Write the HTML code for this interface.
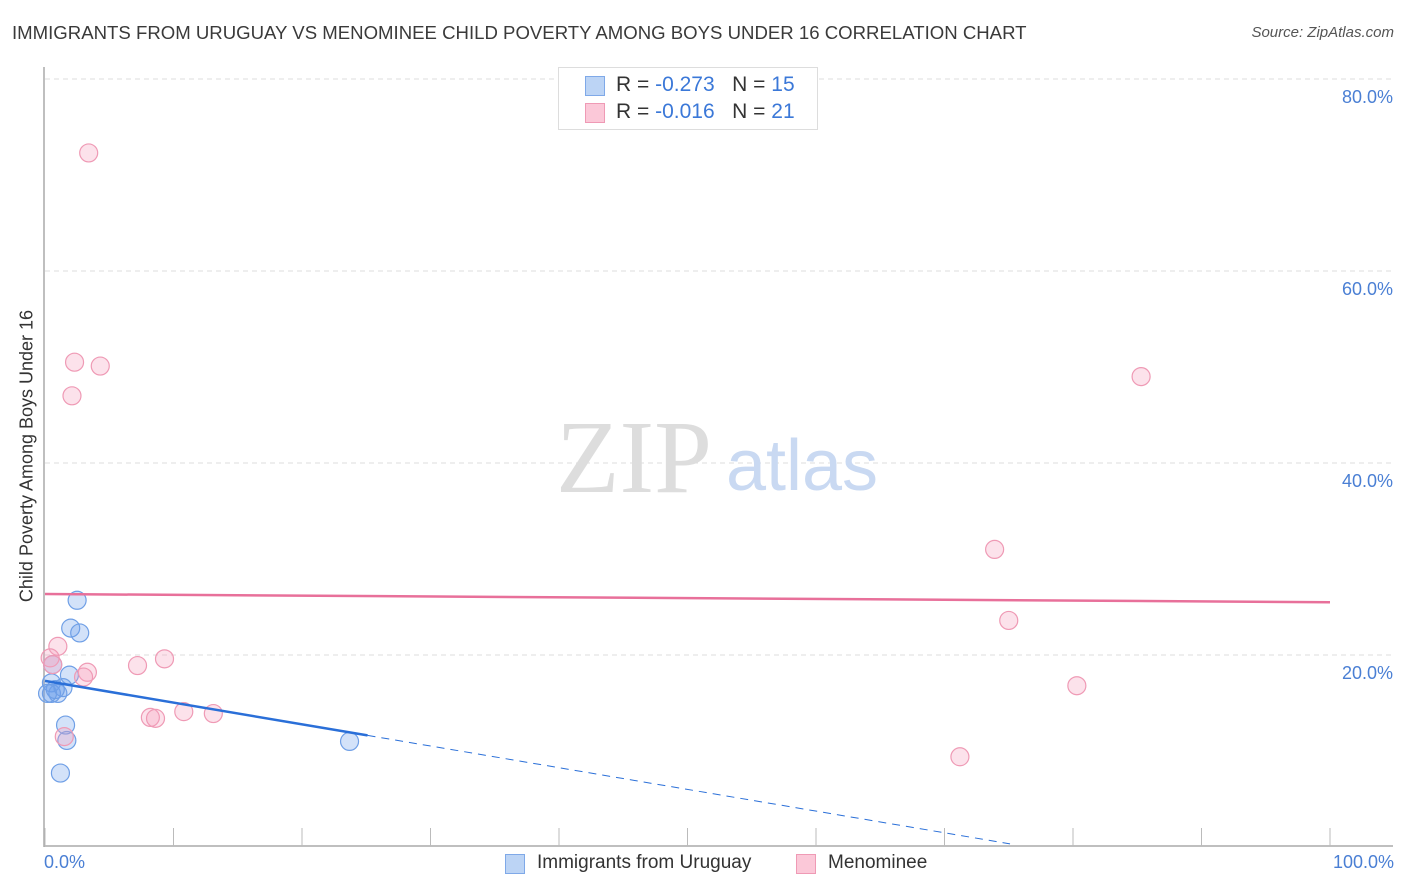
<!DOCTYPE html>
<html><head><meta charset="utf-8"><style>
body{margin:0;background:#fff;font-family:"Liberation Sans",sans-serif;}
#wrap{position:relative;width:1406px;height:892px;overflow:hidden;}
.t{position:absolute;white-space:nowrap;}
</style></head><body>
<div id="wrap">
<div class="t" style="left:12px;top:22px;font-size:18.6px;color:#3a3a3a;">IMMIGRANTS FROM URUGUAY VS MENOMINEE CHILD POVERTY AMONG BOYS UNDER 16 CORRELATION CHART</div>
<div class="t" style="right:12px;top:24px;font-size:15px;color:#555;font-style:italic;">Source: ZipAtlas.com</div>
<svg id="plot" width="1406" height="892" style="position:absolute;left:0;top:0"></svg>
</div>
<script>
const yTicks=[20,40,60,80];
const yTickLabels=["20.0%","40.0%","60.0%","80.0%"];
const xTickVals=[0,10,20,30,40,50,60,70,80,90,100];
const blueX=[2.5,2.0,2.7,0.6,1.9,0.5,0.5,1.0,1.4,0.8,0.2,1.6,1.7,1.2,23.7];
const blueY=[25.7,22.8,22.3,19.0,17.9,17.1,16.0,16.0,16.6,16.4,16.0,12.7,11.1,7.7,11.0];
const pinkX=[3.4,2.3,4.3,2.1,85.3,73.9,75.0,80.3,71.2,1.0,0.4,0.6,3.3,3.0,7.2,9.3,8.2,8.6,10.8,13.1,1.5];
const pinkY=[72.3,50.5,50.1,47.0,49.0,31.0,23.6,16.8,9.4,20.9,19.7,19.0,18.2,17.7,18.9,19.6,13.5,13.4,14.1,13.9,11.5];
const blueTrend=[17.3,-0.226]; // intercept, slope
const blueSolidEnd=25.1;
const blueDashEnd=75.1;
const pinkTrend=[26.35,-0.0085];
const NS="http://www.w3.org/2000/svg";
const svg=document.getElementById('plot');
const X=v=>45+v*12.85, Y=v=>847-v*9.6;
function mk(t,a){const e=document.createElementNS(NS,t);for(const k in a)e.setAttribute(k,a[k]);svg.appendChild(e);return e;}
yTicks.forEach((v,i)=>{
 const g=mk('line',{x1:45,x2:1393,y1:Y(v),y2:Y(v),stroke:'#ddd','stroke-dasharray':'5,4'});
 
 
 const t=mk('text',{x:1393,y:Y(v)+24,'text-anchor':'end','font-size':18,fill:'#4a7fd4','font-family':'Liberation Sans'});
 t.textContent=yTickLabels[i];
 
 
});
const ax=mk('line',{x1:44,x2:44,y1:67,y2:847,stroke:'#aaa','stroke-width':1.5});


const bx=mk('line',{x1:44,x2:1393,y1:846,y2:846,stroke:'#aaa','stroke-width':1.5});


xTickVals.forEach(v=>{
 const l=mk('line',{x1:X(v),x2:X(v),y1:828,y2:846,stroke:'#bbb'});
 
 
});
const wm1=mk('text',{x:634,y:492,'text-anchor':'middle','font-size':104,fill:'#ddd','font-family':'Liberation Serif'});
wm1.textContent='ZIP';


const wm2=mk('text',{x:802,y:490,'text-anchor':'middle','font-size':72,fill:'#c9d9f2','font-family':'Liberation Sans'});
wm2.textContent='atlas';


blueX.forEach((x,i)=>{
 const c=mk('circle',{cx:X(x),cy:Y(blueY[i]),r:9,fill:'rgba(110,160,235,0.3)',stroke:'#6f9fe6','stroke-width':1.2});
 
 
});
pinkX.forEach((x,i)=>{
 const c=mk('circle',{cx:X(x),cy:Y(pinkY[i]),r:9,fill:'rgba(245,160,190,0.3)',stroke:'#ef9ab5','stroke-width':1.2});
 
 
});
const bf=x=>blueTrend[0]+blueTrend[1]*x;
const bl=mk('line',{x1:X(0),y1:Y(bf(0)),x2:X(blueSolidEnd),y2:Y(bf(blueSolidEnd)),stroke:'#2a6fd8','stroke-width':2.5});


const bd=mk('line',{x1:X(blueSolidEnd),y1:Y(bf(blueSolidEnd)),x2:X(blueDashEnd),y2:Y(bf(blueDashEnd)),stroke:'#2a6fd8','stroke-width':1,'stroke-dasharray':'8,6'});


const pf=x=>pinkTrend[0]+pinkTrend[1]*x;
const pl=mk('line',{x1:X(0),y1:Y(pf(0)),x2:X(100),y2:Y(pf(100)),stroke:'#e8709a','stroke-width':2.5});


</script>
<div class="t" style="left:27px;top:456px;font-size:18px;color:#333;transform:translate(-50%,-50%) rotate(-90deg);">Child Poverty Among Boys Under 16</div>
<div class="t" style="left:44px;top:852px;font-size:18px;color:#4a7fd4;">0.0%</div>
<div class="t" style="right:12px;top:852px;font-size:18px;color:#4a7fd4;">100.0%</div>
<div style="position:absolute;left:558px;top:67px;width:260px;height:63px;border:1px solid #ddd;background:#fff;box-sizing:border-box;">
 <div style="position:absolute;left:26px;top:8px;width:20px;height:20px;background:#bcd4f5;border:1px solid #7fa9e8;box-sizing:border-box;"></div>
 <div class="t" style="left:57px;top:5px;font-size:21px;color:#333;">R = <span style="color:#3b78d8">-0.273</span>&nbsp;&nbsp;&nbsp;N = <span style="color:#3b78d8">15</span></div>
 <div style="position:absolute;left:26px;top:35px;width:20px;height:20px;background:#fbc8d8;border:1px solid #ef9ab5;box-sizing:border-box;"></div>
 <div class="t" style="left:57px;top:32px;font-size:21px;color:#333;">R = <span style="color:#3b78d8">-0.016</span>&nbsp;&nbsp;&nbsp;N = <span style="color:#3b78d8">21</span></div>
</div>
<div style="position:absolute;left:505px;top:852px;height:24px;">
 <div style="position:absolute;left:0;top:2px;width:20px;height:20px;background:#bcd4f5;border:1px solid #7fa9e8;box-sizing:border-box;"></div>
 <div class="t" style="left:32px;top:0;font-size:19px;color:#333;">Immigrants from Uruguay</div>
 <div style="position:absolute;left:291px;top:2px;width:20px;height:20px;background:#fbc8d8;border:1px solid #ef9ab5;box-sizing:border-box;"></div>
 <div class="t" style="left:323px;top:0;font-size:19px;color:#333;">Menominee</div>
</div>
</body></html>
